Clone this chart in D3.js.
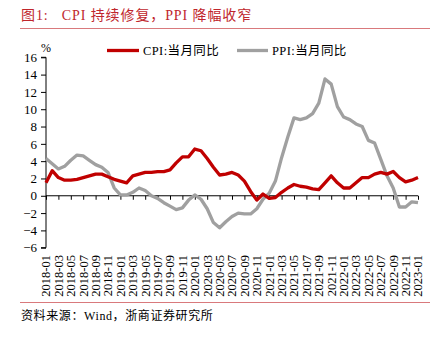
<!DOCTYPE html>
<html>
<head>
  <meta charset="utf-8">
  <title>CPI / PPI</title>
  <script src="https://d3js.org/d3.v7.min.js"></script>
  <style>
    body { margin: 0; background: #fff; }
    svg { display: block; }
    text { font-family: "Liberation Serif", "Noto Sans CJK SC", serif; fill: #000; }
  </style>
</head>
<body>
  <svg></svg>
  <script>
    const width = 445, height = 339;

    // monthly data, 2018-01 .. 2023-01
    const cpi = [
      1.5, 2.9, 2.1, 1.8, 1.8, 1.9, 2.1, 2.3, 2.5, 2.5, 2.2, 1.9,
      1.7, 1.5, 2.3, 2.5, 2.7, 2.7, 2.8, 2.8, 3.0, 3.8, 4.5, 4.5,
      5.4, 5.2, 4.3, 3.3, 2.4, 2.5, 2.7, 2.4, 1.7, 0.5, -0.5, 0.2,
      -0.3, -0.2, 0.4, 0.9, 1.3, 1.1, 1.0, 0.8, 0.7, 1.5, 2.3, 1.5,
      0.9, 0.9, 1.5, 2.1, 2.1, 2.5, 2.7, 2.5, 2.8, 2.1, 1.6, 1.8,
      2.1
    ];
    const ppi = [
      4.3, 3.7, 3.1, 3.4, 4.1, 4.7, 4.6, 4.1, 3.6, 3.3, 2.7, 0.9,
      0.1, 0.1, 0.4, 0.9, 0.6, 0.0, -0.3, -0.8, -1.2, -1.6, -1.4, -0.5,
      0.1, -0.4, -1.5, -3.1, -3.7, -3.0, -2.4, -2.0, -2.1, -2.1, -1.5, -0.4,
      0.3, 1.7, 4.4, 6.8, 9.0, 8.8, 9.0, 9.5, 10.7, 13.5, 12.9, 10.3,
      9.1, 8.8, 8.3, 8.0, 6.4, 6.1, 4.2, 2.3, 0.9, -1.3, -1.3, -0.7,
      -0.8
    ];
    const months = d3.range(cpi.length).map(i => {
      const y = 2018 + Math.floor(i / 12), m = (i % 12) + 1;
      return y + "-" + (m < 10 ? "0" + m : m);
    });
    const yTicks = [-6, -4, -2, 0, 2, 4, 6, 8, 10, 12, 14, 16];
    const seriesNames = ["CPI:当月同比", "PPI:当月同比"];
    const colors = ["#c00000", "#a0a0a0"];

    const svg = d3.select("svg").attr("width", width).attr("height", height);

    // title + rules
    svg.append("text").attr("x", 21).attr("y", 20)
      .style("font-size", "14px").style("fill", "#c0262c")
      .style("white-space", "pre").style("letter-spacing", "0.9px")
      .text("图1:   CPI 持续修复，PPI 降幅收窄");
    svg.append("line").attr("x1", 20).attr("x2", 430).attr("y1", 28.5).attr("y2", 28.5)
      .attr("stroke", "#d9797c").attr("stroke-width", 1.2);
    svg.append("line").attr("x1", 20).attr("x2", 430).attr("y1", 302.5).attr("y2", 302.5)
      .attr("stroke", "#d9797c").attr("stroke-width", 1.2);
    svg.append("text").attr("x", 21).attr("y", 320)
      .style("font-size", "12px").style("letter-spacing", "0.6px")
      .text("资料来源：Wind，浙商证券研究所");

    const x = d3.scaleLinear().domain([0, months.length - 1]).range([46, 418]);
    const y = d3.scaleLinear().domain([-6, 16]).range([247.7, 57.3]);

    // y axis
    const yAxis = svg.append("g").attr("transform", "translate(46,0)")
      .call(d3.axisLeft(y).tickValues(yTicks).tickSize(5).tickPadding(4).tickFormat(d3.format("d")));
    yAxis.selectAll("text").style("font-size", "13px").style("font-family", "Liberation Serif");
    yAxis.selectAll("path, line").attr("stroke", "#000");
    yAxis.select(".domain").attr("d", "M-5," + y(-6) + "H0V" + y(16) + "H-5");

    svg.append("text").attr("x", 41).attr("y", 52).style("font-size", "12px").text("%");

    // x axis at zero
    const xAxis = svg.append("g").attr("transform", "translate(0," + y(0) + ")")
      .call(d3.axisBottom(x).tickValues(d3.range(0, months.length, 2)).tickSize(4).tickFormat(""));
    xAxis.select(".domain").attr("d", "M" + x(0) + ",0H" + x(months.length - 1));
    xAxis.selectAll("path, line").attr("stroke", "#000");

    // x labels at bottom, rotated
    svg.append("g").selectAll("text")
      .data(d3.range(0, months.length, 2))
      .join("text")
      .attr("transform", i => "translate(" + (x(i) + 4.3) + ",255) rotate(-90)")
      .attr("text-anchor", "end")
      .style("font-size", "12.5px")
      .text(i => months[i]);

    // lines
    const line = d3.line().x((d, i) => x(i)).y(d => y(d));
    [ppi, cpi].forEach((s, k) => {
      svg.append("path").datum(s)
        .attr("d", line)
        .attr("fill", "none")
        .attr("stroke", k === 0 ? colors[1] : colors[0])
        .attr("stroke-width", 3.3)
        .attr("stroke-linejoin", "round");
    });

    // legend
    const legend = [[107, 139, 143], [237, 268, 272]];
    legend.forEach((p, k) => {
      svg.append("line").attr("x1", p[0]).attr("x2", p[1]).attr("y1", 50.5).attr("y2", 50.5)
        .attr("stroke", colors[k]).attr("stroke-width", 3.3);
      svg.append("text").attr("x", p[2]).attr("y", 55).style("font-size", "12.5px")
        .style("letter-spacing", "0.4px").text(seriesNames[k]);
    });
  </script>
</body>
</html>
